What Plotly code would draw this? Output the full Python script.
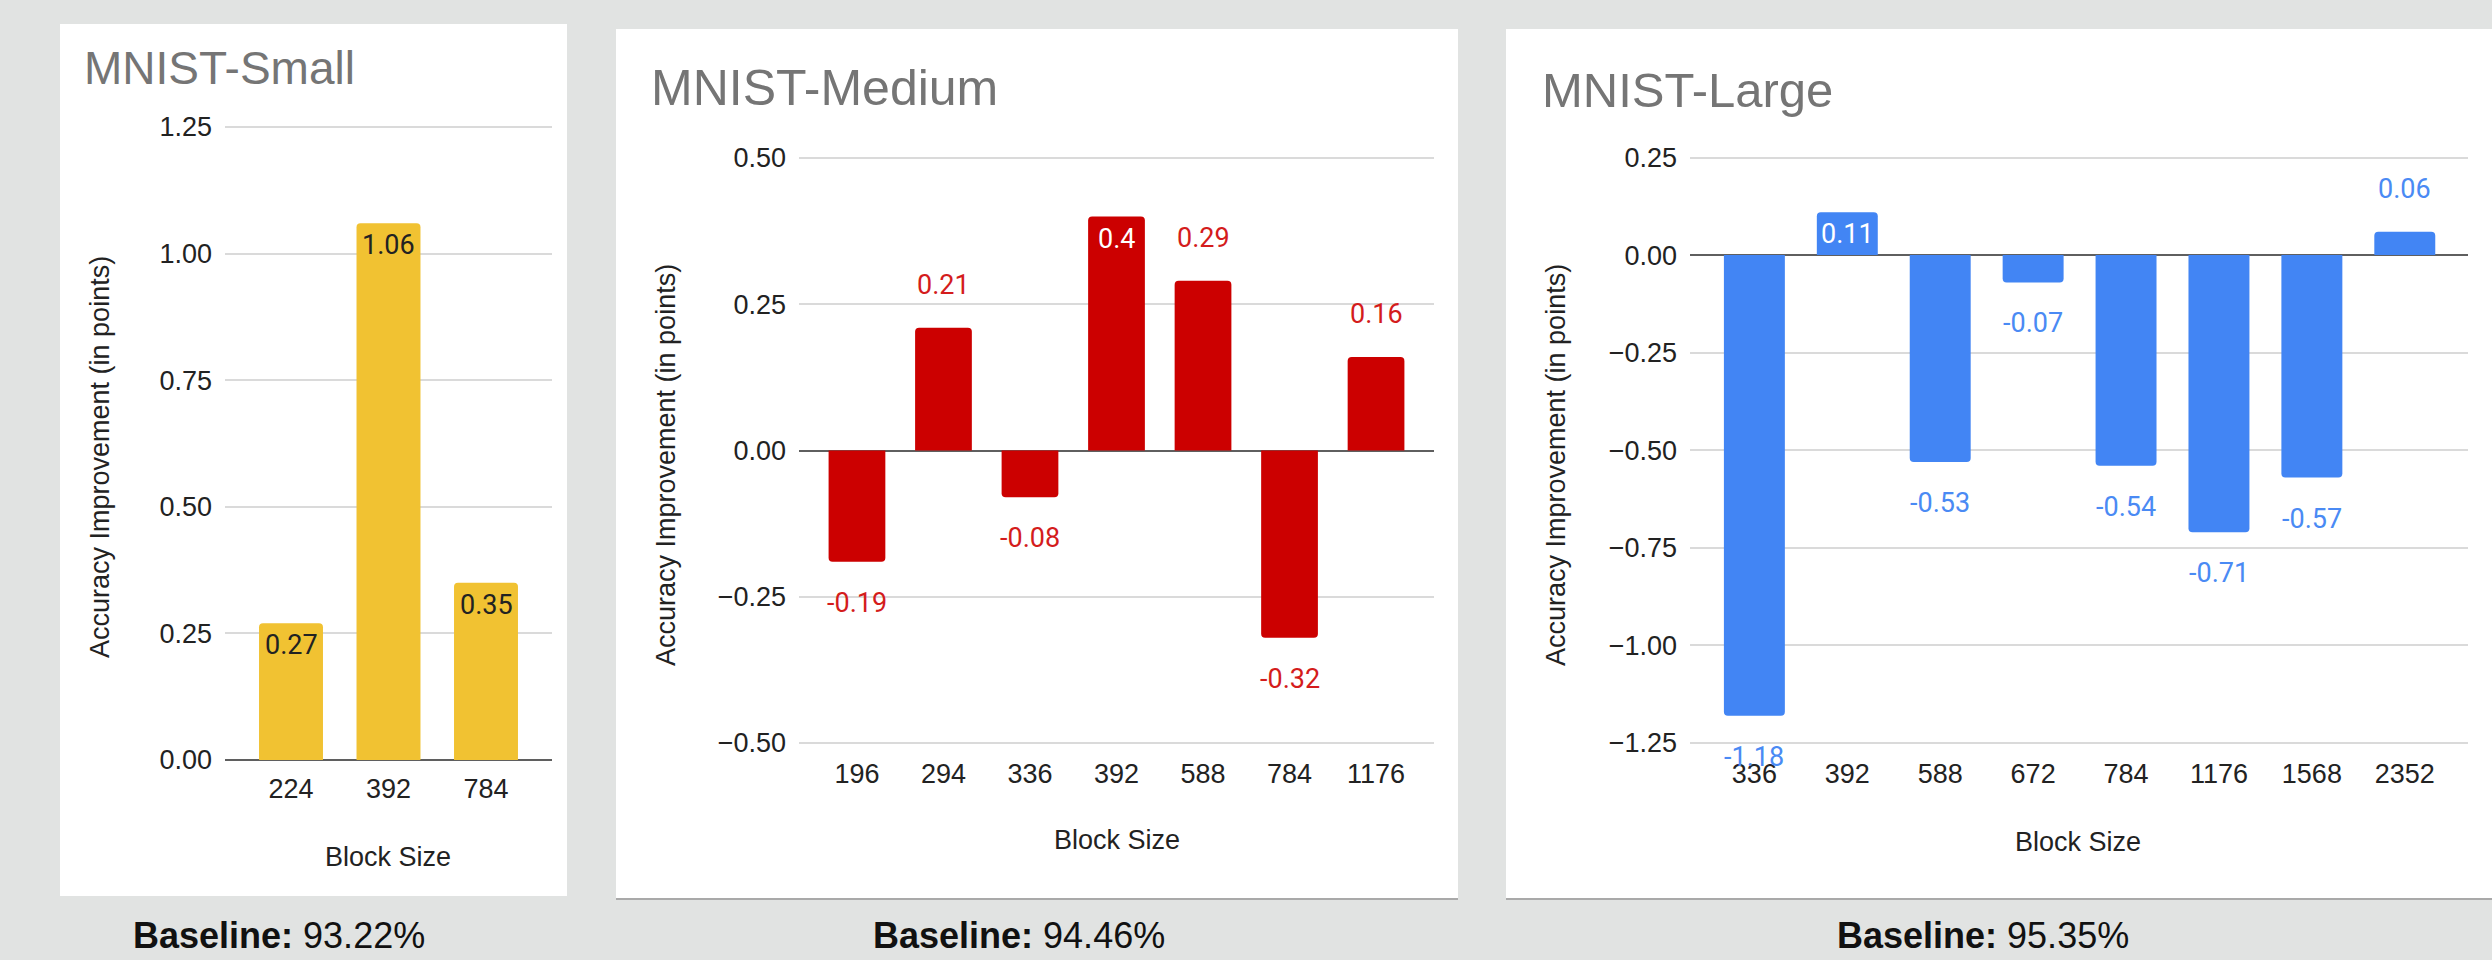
import plotly.graph_objects as go

W, H = 2492, 960

# ---------------- data ----------------
small_blocks = ["224", "392", "784"]
small_vals = [0.27, 1.06, 0.35]

medium_blocks = ["196", "294", "336", "392", "588", "784", "1176"]
medium_vals = [-0.19, 0.21, -0.08, 0.4, 0.29, -0.32, 0.16]

large_blocks = ["336", "392", "588", "672", "784", "1176", "1568", "2352"]
large_vals = [-1.18, 0.11, -0.53, -0.07, -0.54, -0.71, -0.57, 0.06]

titles = ["MNIST-Small", "MNIST-Medium", "MNIST-Large"]
baselines = ["93.22%", "94.46%", "95.35%"]
y_ticks_small = [0, 0.25, 0.5, 0.75, 1.0, 1.25]
y_ticks_medium = [-0.5, -0.25, 0, 0.25, 0.5]
y_ticks_large = [-1.25, -1.0, -0.75, -0.5, -0.25, 0, 0.25]

# ---------------- style ----------------
BG = "#e1e3e2"
AX_FONT = "Liberation Sans, Arial, sans-serif"
LBL_FONT = "Roboto, Arial, sans-serif"
TXT = "#222222"
colors = ["#f1c232", "#cc0000", "#4285f4"]
label_colors = ["#222222", "#d41c1c", "#4a8af4"]


def px(x):
    return x / W


def py(y):
    return 1 - y / H


panels = [
    dict(cats=small_blocks, vals=small_vals, ticks=y_ticks_small, yr=[0, 1.25],
         xr=[-0.677, 2.677], plot=(225, 552, 127, 760), white=(60, 567, 24, 896),
         border=False, title_xy=(82, 68.5), title_size=46,
         ytitle=(100, 457), xtitle=(388, 857), base_xy=(279, 935.5),
         inside=[0, 1, 2], standoff_x=7),
    dict(cats=medium_blocks, vals=medium_vals, ticks=y_ticks_medium, yr=[-0.5, 0.5],
         xr=[-0.67, 6.67], plot=(799, 1434, 158, 743), white=(616, 1458, 29, 899),
         border=True, title_xy=(649, 88.5), title_size=50,
         ytitle=(666, 465), xtitle=(1117, 840), base_xy=(1019, 935.5),
         inside=[3], standoff_x=9),
    dict(cats=large_blocks, vals=large_vals, ticks=y_ticks_large, yr=[-1.25, 0.25],
         xr=[-0.693, 7.675], plot=(1690, 2467.5, 157.5, 743), white=(1506, 2492, 29, 899),
         border=True, title_xy=(1540, 89.5), title_size=49,
         ytitle=(1556, 465), xtitle=(2078, 842), base_xy=(1983, 935.5),
         inside=[1], standoff_x=9),
]

fig = go.Figure()
shapes = []
annotations = []
PAD = 3  # px of slack so that edge gridlines are drawn

for i, p in enumerate(panels):
    sfx = "" if i == 0 else str(i + 1)
    xa, ya = "x" + sfx, "y" + sfx
    x0, x1, y0, y1 = p["plot"]
    lo, hi = p["yr"]
    k = (y1 - y0) / (hi - lo)  # px per unit
    yrange = [lo - PAD / k, hi + PAD / k]
    ydom = [py(y1 + PAD), py(y0 - PAD)]

    fig.add_trace(go.Bar(
        x=list(range(len(p["cats"]))), y=p["vals"], xaxis=xa, yaxis=ya,
        marker=dict(color=colors[i], cornerradius=4, line=dict(width=0)),
        width=0.656, showlegend=False, hoverinfo="skip",
    ))

    fig.update_layout(**{
        "xaxis" + sfx: dict(
            domain=[px(x0), px(x1)], anchor=ya, type="linear",
            range=p["xr"], showgrid=False, zeroline=False, showline=False,
            tickmode="array", tickvals=list(range(len(p["cats"]))), ticktext=p["cats"],
            ticks="", ticklabelstandoff=p["standoff_x"], automargin=False,
            tickfont=dict(family=AX_FONT, size=27, color=TXT),
            fixedrange=True,
        ),
        "yaxis" + sfx: dict(
            domain=ydom, anchor=xa, range=yrange,
            tickmode="array", tickvals=p["ticks"], tickformat=".2f",
            showgrid=True, gridcolor="#dadada", gridwidth=2,
            zeroline=True, zerolinecolor="#5f5f5f", zerolinewidth=2,
            showline=False, ticks="", ticklabelstandoff=12, automargin=False,
            tickfont=dict(family=AX_FONT, size=27, color=TXT),
            fixedrange=True,
        ),
    })

    # white card behind each chart
    wx0, wx1, wy0, wy1 = p["white"]
    shapes.append(dict(type="rect", xref="paper", yref="paper", layer="below",
                       x0=px(wx0), x1=px(wx1), y0=py(wy1), y1=py(wy0),
                       fillcolor="white", line=dict(width=0)))
    if p["border"]:
        shapes.append(dict(type="line", xref="paper", yref="paper", layer="below",
                           x0=px(wx0), x1=px(wx1), y0=py(wy1), y1=py(wy1),
                           line=dict(color="#a9a9a9", width=2)))

    # chart title
    tx, ty = p["title_xy"]
    annotations.append(dict(text=titles[i], xref="paper", yref="paper",
                            x=px(tx), y=py(ty), xanchor="left", yanchor="middle",
                            showarrow=False,
                            font=dict(family=AX_FONT, size=p["title_size"], color="#757575")))
    # axis titles
    yx, yy = p["ytitle"]
    annotations.append(dict(text="Accuracy Improvement (in points)", xref="paper", yref="paper",
                            x=px(yx), y=py(yy), xanchor="center", yanchor="middle",
                            textangle=-90, showarrow=False,
                            font=dict(family=AX_FONT, size=27, color=TXT)))
    bx, by = p["xtitle"]
    annotations.append(dict(text="Block Size", xref="paper", yref="paper",
                            x=px(bx), y=py(by), xanchor="center", yanchor="middle",
                            showarrow=False,
                            font=dict(family=AX_FONT, size=27, color=TXT)))
    # baseline caption
    cx, cy = p["base_xy"]
    annotations.append(dict(text="<b>Baseline:</b> " + baselines[i], xref="paper", yref="paper",
                            x=px(cx), y=py(cy), xanchor="center", yanchor="middle",
                            showarrow=False,
                            font=dict(family=AX_FONT, size=36, color="#111111")))

    # data labels
    for j, v in enumerate(p["vals"]):
        inside = j in p["inside"]
        if inside:
            shift = -22 if v >= 0 else 22
            col = "white" if i > 0 else label_colors[0]
        else:
            shift = 43 if v >= 0 else -41
            col = label_colors[i]
        txt = "%g" % v
        annotations.append(dict(text=txt, xref=xa, yref=ya, x=j, y=v, yshift=shift,
                                xanchor="center", yanchor="middle", showarrow=False,
                                font=dict(family=LBL_FONT, size=27, color=col)))

fig.update_layout(
    width=W, height=H,
    margin=dict(l=0, r=0, t=0, b=0, pad=0, autoexpand=False),
    paper_bgcolor=BG, plot_bgcolor="rgba(0,0,0,0)",
    shapes=shapes, annotations=annotations,
    showlegend=False,
)

fig.write_html("out.html", config={"displayModeBar": False})
